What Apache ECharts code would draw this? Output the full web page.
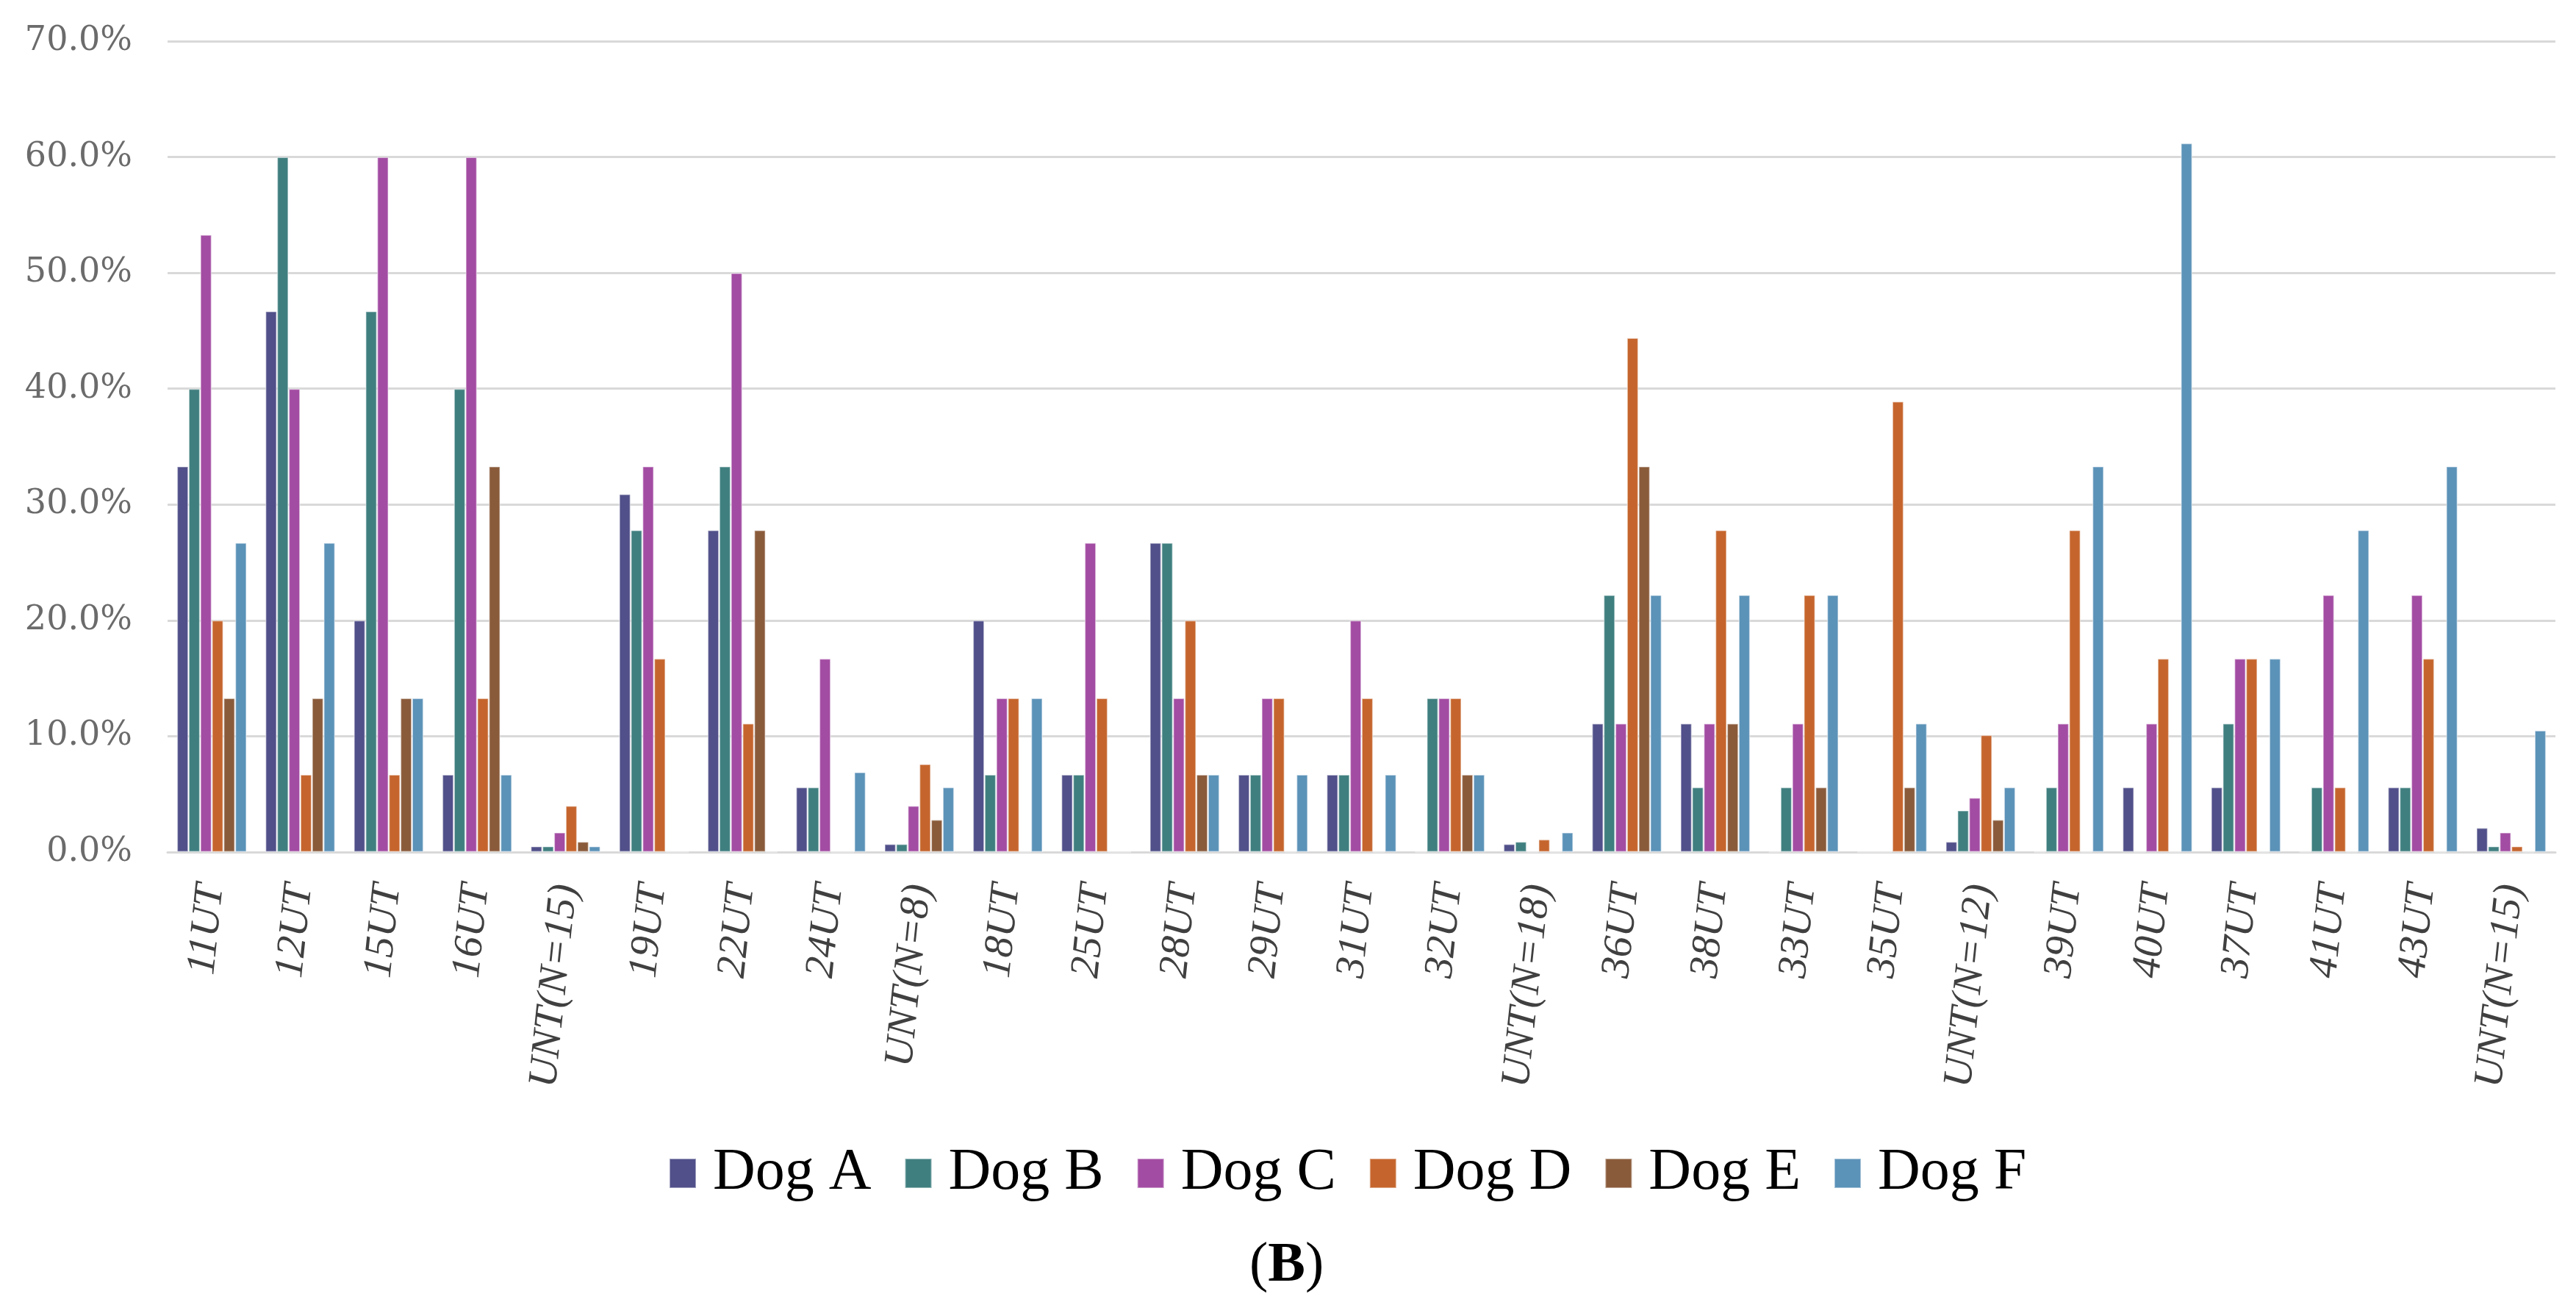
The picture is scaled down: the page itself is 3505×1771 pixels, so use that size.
<!DOCTYPE html>
<html>
<head>
<meta charset="utf-8">
<script src="https://cdn.jsdelivr.net/npm/echarts@6/dist/echarts.min.js"></script>
<style>
html,body{margin:0;padding:0;background:#fff;}
#chart{width:3505px;height:1771px;}
</style>
</head>
<body>
<div id="chart"></div>
<script>
const categories = ['11UT','12UT','15UT','16UT','UNT(N=15)','19UT','22UT','24UT','UNT(N=8)','18UT','25UT','28UT','29UT','31UT','32UT','UNT(N=18)','36UT','38UT','33UT','35UT','UNT(N=12)','39UT','40UT','37UT','41UT','43UT','UNT(N=15)'];
const seriesNames = ['Dog A','Dog B','Dog C','Dog D','Dog E','Dog F'];
const dogA = [33.3,46.7,20.0,6.7,0.5,30.9,27.8,5.6,0.7,20.0,6.7,26.7,6.7,6.7,0,0.7,11.1,11.1,0,0,0.9,0,5.6,5.6,0,5.6,2.1];
const dogB = [40.0,60.0,46.7,40.0,0.5,27.8,33.3,5.6,0.7,6.7,6.7,26.7,6.7,6.7,13.3,0.9,22.2,5.6,5.6,0,3.6,5.6,0,11.1,5.6,5.6,0.5];
const dogC = [53.3,40.0,60.0,60.0,1.7,33.3,50.0,16.7,4.0,13.3,26.7,13.3,13.3,20.0,13.3,0,11.1,11.1,11.1,0,4.7,11.1,11.1,16.7,22.2,22.2,1.7];
const dogD = [20.0,6.7,6.7,13.3,4.0,16.7,11.1,0,7.6,13.3,13.3,20.0,13.3,13.3,13.3,1.1,44.4,27.8,22.2,38.9,10.1,27.8,16.7,16.7,5.6,16.7,0.5];
const dogE = [13.3,13.3,13.3,33.3,0.9,0,27.8,0,2.8,0,0,6.7,0,0,6.7,0,33.3,11.1,5.6,5.6,2.8,0,0,0,0,0,0];
const dogF = [26.7,26.7,13.3,6.7,0.5,0,0,6.9,5.6,13.3,0,6.7,6.7,6.7,6.7,1.7,22.2,22.2,22.2,11.1,5.6,33.3,61.2,16.7,27.8,33.3,10.5];
const yTicks = [0,10,20,30,40,50,60,70];

const colors = ['#51508a','#407f80','#a34ca3','#c5652d','#8a5b3b','#5b92b8'];
const allData = [dogA,dogB,dogC,dogD,dogE,dogF];
const serif = '"Liberation Serif", "Times New Roman", Times, serif';

const chart = echarts.init(document.getElementById('chart'));
chart.setOption({
  animation: false,
  backgroundColor: '#ffffff',
  color: colors,
  grid: {left: 228, right: 28, top: 56, bottom: 612, containLabel: false},
  legend: {
    data: seriesNames,
    left: 905,
    top: 1551,
    itemWidth: 36,
    itemHeight: 40,
    itemGap: 45,
    icon: 'rect',
    textStyle: {fontFamily: serif, fontSize: 80, color: '#000', padding: [0,0,0,18]}
  },
  graphic: [{
    type: 'text',
    left: 1700,
    top: 1684,
    style: {
      text: '({b|B})',
      rich: {b: {fontWeight: 'bold', fontFamily: serif, fontSize: 76, fill: '#000'}},
      fontFamily: serif,
      fontSize: 76,
      fill: '#000'
    }
  }],
  xAxis: {
    type: 'category',
    data: categories,
    axisLine: {show: true, lineStyle: {color: '#d9d9d9', width: 3}},
    axisTick: {show: false},
    axisLabel: {
      interval: 0,
      rotate: 84,
      margin: 44,
      fontFamily: serif,
      fontStyle: 'italic',
      fontSize: 56,
      color: '#404040'
    }
  },
  yAxis: {
    type: 'value',
    min: yTicks[0],
    max: yTicks[yTicks.length-1],
    interval: 10,
    axisLine: {show: false},
    axisTick: {show: false},
    splitLine: {lineStyle: {color: '#d9d9d9', width: 3}},
    axisLabel: {
      margin: 48,
      fontFamily: '"DejaVu Serif", serif',
      fontSize: 46,
      color: '#6b6b6b',
      formatter: v => v.toFixed(1) + '%'
    }
  },
  series: seriesNames.map((name, i) => ({
    name: name,
    type: 'bar',
    data: allData[i],
    barGap: '0%',
    barCategoryGap: '21%',
    itemStyle: {color: colors[i], borderColor: 'rgba(255,255,255,0.45)', borderWidth: 1.5}
  }))
});
</script>
</body>
</html>
